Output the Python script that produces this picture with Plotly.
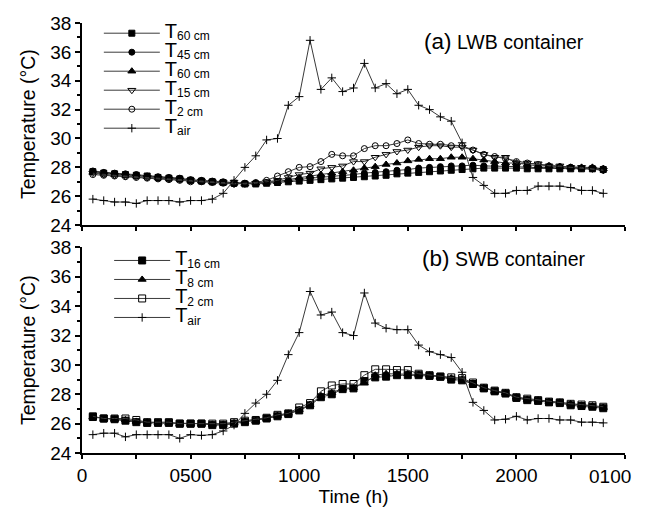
import plotly.graph_objects as go

hours = [0.5, 1.0, 1.5, 2.0, 2.5, 3.0, 3.5, 4.0, 4.5, 5.0, 5.5, 6.0,
         6.5, 7.0, 7.5, 8.0, 8.5, 9.0, 9.5, 10.0, 10.5, 11.0, 11.5, 12.0,
         12.5, 13.0, 13.5, 14.0, 14.5, 15.0, 15.5, 16.0, 16.5, 17.0, 17.5, 18.0,
         18.5, 19.0, 19.5, 20.0, 20.5, 21.0, 21.5, 22.0, 22.5, 23.0, 23.5, 24.0]

x_tickvals = [0, 2.5, 5, 7.5, 10, 12.5, 15, 17.5, 20, 22.5, 25]
x_ticktext = ["0", "", "0500", "", "1000", "", "1500", "", "2000", "", ""]
last_tick_label = "0100"

# (a) LWB container
lwb_60a = [27.7, 27.6, 27.55, 27.5, 27.45, 27.4, 27.3, 27.25, 27.2, 27.1, 27.05, 27.0,
           26.95, 26.9, 26.85, 26.85, 26.9, 26.95, 27.0, 27.05, 27.1, 27.15, 27.2, 27.25,
           27.3, 27.35, 27.4, 27.45, 27.55, 27.6, 27.65, 27.7, 27.75, 27.8, 27.85, 27.9,
           27.95, 27.95, 27.95, 27.95, 27.9, 27.9, 27.9, 27.9, 27.9, 27.9, 27.9, 27.85]
lwb_45 = [27.75, 27.65, 27.6, 27.55, 27.5, 27.4, 27.35, 27.3, 27.25, 27.15, 27.1, 27.05,
          27.0, 26.9, 26.9, 26.9, 26.95, 27.0, 27.1, 27.15, 27.25, 27.3, 27.35, 27.45,
          27.5, 27.6, 27.65, 27.7, 27.8, 27.85, 27.95, 28.0, 28.05, 28.1, 28.1, 28.15,
          28.1, 28.1, 28.05, 28.05, 28.0, 28.0, 28.0, 28.0, 28.0, 27.95, 27.95, 27.9]
lwb_60b = [27.65, 27.6, 27.5, 27.45, 27.4, 27.35, 27.3, 27.25, 27.2, 27.1, 27.05, 27.0,
           26.95, 26.9, 26.85, 26.9, 26.95, 27.0, 27.15, 27.3, 27.4, 27.5, 27.6, 27.7,
           27.8, 27.95, 28.05, 28.2, 28.3, 28.45, 28.55, 28.6, 28.6, 28.7, 28.7, 28.6,
           28.5, 28.4, 28.3, 28.3, 28.2, 28.1, 28.1, 28.05, 28.0, 28.0, 28.0, 27.9]
lwb_15 = [27.6, 27.5, 27.45, 27.4, 27.35, 27.3, 27.25, 27.2, 27.15, 27.1, 27.05, 27.0,
          26.95, 26.85, 26.85, 26.9, 27.0, 27.1, 27.3, 27.5, 27.6, 27.9, 28.0, 28.1,
          28.4, 28.4, 28.7, 28.9, 29.1, 29.2, 29.4, 29.5, 29.5, 29.4, 29.4, 29.2,
          28.9, 28.7, 28.7, 28.3, 28.3, 28.25, 28.1, 28.1, 28.0, 28.0, 27.9, 27.8]
lwb_2 = [27.5, 27.45, 27.4, 27.35, 27.3, 27.25, 27.2, 27.15, 27.1, 27.0, 27.0, 26.95,
         26.9, 26.85, 26.9, 26.95, 27.1, 27.4, 27.7, 28.0, 28.05, 28.4, 28.9, 28.8,
         28.8, 29.3, 29.5, 29.5, 29.65, 29.9, 29.65, 29.6, 29.6, 29.5, 29.5, 29.2,
         28.9, 28.75, 28.6, 28.4, 28.3, 28.2, 28.1, 28.05, 28.0, 27.95, 27.9, 27.8]
lwb_air = [25.8, 25.7, 25.6, 25.6, 25.5, 25.7, 25.7, 25.7, 25.6, 25.7, 25.7, 25.8,
           26.2, 27.1, 28.0, 28.8, 29.9, 30.0, 32.3, 32.9, 36.8, 33.4, 34.2, 33.25,
           33.5, 35.2, 33.5, 33.8, 33.1, 33.4, 32.3, 32.0, 31.5, 31.2, 29.7, 27.3,
           26.75, 26.2, 26.2, 26.4, 26.4, 26.7, 26.7, 26.7, 26.6, 26.4, 26.4, 26.2]

# (b) SWB container
swb_16 = [26.45, 26.35, 26.3, 26.2, 26.1, 26.05, 26.05, 26.05, 26.0, 26.0, 26.0, 25.9,
          25.9, 26.0, 26.1, 26.2, 26.35, 26.5, 26.65, 26.9, 27.25, 27.8, 28.0, 28.35,
          28.4, 28.9, 29.15, 29.2, 29.3, 29.3, 29.3, 29.25, 29.2, 29.0, 28.95, 28.7,
          28.4, 28.2, 28.05, 27.75, 27.6, 27.55, 27.45, 27.4, 27.25, 27.2, 27.15, 27.05]
swb_8 = [26.45, 26.35, 26.3, 26.25, 26.15, 26.1, 26.05, 26.05, 26.0, 26.0, 26.0, 25.95,
         25.95, 26.05, 26.15, 26.2, 26.35, 26.55, 26.7, 26.95, 27.3, 27.9, 28.1, 28.4,
         28.45, 28.75, 29.3, 29.4, 29.4, 29.4, 29.35, 29.3, 29.2, 29.1, 29.0, 28.75,
         28.45, 28.2, 28.1, 27.8, 27.65, 27.6, 27.5, 27.45, 27.35, 27.25, 27.2, 27.1]
swb_2 = [26.5, 26.35, 26.35, 26.35, 26.25, 26.1, 26.1, 26.1, 26.0, 26.0, 26.0, 26.0,
         26.0, 26.1, 26.2, 26.25, 26.4, 26.6, 26.7, 27.1, 27.4, 28.2, 28.6, 28.7,
         28.7, 29.3, 29.7, 29.7, 29.65, 29.65, 29.4, 29.3, 29.2, 29.15, 29.1, 28.8,
         28.45, 28.25, 28.1, 27.8, 27.7, 27.6, 27.5, 27.45, 27.35, 27.3, 27.25, 27.15]
swb_air = [25.25, 25.35, 25.35, 25.1, 25.25, 25.25, 25.25, 25.25, 25.0, 25.25, 25.2, 25.25,
           25.5, 25.9, 26.7, 27.4, 28.0, 28.95, 30.7, 32.2, 35.0, 33.4, 33.6, 32.2,
           32.0, 34.9, 32.85, 32.5, 32.4, 32.4, 31.35, 30.9, 30.7, 30.5, 29.5, 27.45,
           26.9, 26.25, 26.3, 26.5, 26.25, 26.35, 26.35, 26.25, 26.25, 26.1, 26.1, 26.05]

FONT = "Liberation Sans, Arial, Helvetica, sans-serif"
fig = go.Figure()


def label(sub):
    return ("<span style='font-size:20px'>T</span>"
            "<sub><span style='font-size:12px'>" + sub + "</span></sub>")


def add(y, name, symbol, xa, ya, legend, size=7, lw=1):
    fig.add_trace(go.Scatter(
        x=hours, y=y, name=name, mode="lines+markers",
        line=dict(color="#3a3a3a", width=1),
        marker=dict(symbol=symbol, size=size, color="black",
                    line=dict(color="black", width=lw)),
        xaxis=xa, yaxis=ya, legend=legend))


add(lwb_60a, label("60 cm"), "square", "x2", "y2", "legend", 6)
add(lwb_45, label("45 cm"), "circle", "x2", "y2", "legend", 6)
add(lwb_60b, label("60 cm"), "triangle-up", "x2", "y2", "legend", 7)
add(lwb_15, label("15 cm"), "triangle-down-open", "x2", "y2", "legend", 7)
add(lwb_2, label("2 cm"), "circle-open", "x2", "y2", "legend", 6)
add(lwb_air, label("air"), "cross-thin", "x2", "y2", "legend", 6)

add(swb_16, label("16 cm"), "square", "x", "y", "legend2", 7)
add(swb_8, label("8 cm"), "triangle-up", "x", "y", "legend2", 7)
add(swb_2, label("2 cm"), "square-open", "x", "y", "legend2", 7)
add(swb_air, label("air"), "cross-thin", "x", "y", "legend2", 6)

xcommon = dict(range=[0, 25], tickvals=x_tickvals, ticktext=x_ticktext,
               ticks="outside", ticklen=4, tickwidth=1.5, tickcolor="black",
               showline=True, linecolor="black", linewidth=1.6,
               showgrid=False, zeroline=False, automargin=False,
               tickfont=dict(size=19, color="black", family=FONT))
ycommon = dict(range=[24, 38], dtick=2, ticks="outside", ticklen=5, tickwidth=1.5,
               tickcolor="black", showline=True, linecolor="black", linewidth=1.6,
               showgrid=False, zeroline=False, automargin=False,
               minor=dict(dtick=1, ticks="outside", ticklen=3, tickcolor="black", tickwidth=1.5),
               tickfont=dict(size=19, color="black", family=FONT),
               title=dict(text="Temperature (°C)", font=dict(size=19.5, color="black", family=FONT),
                          standoff=9))

# the page body adds an 8 px offset, so the figure is sized and margined to compensate
fig.update_layout(
    width=641, height=499,
    margin=dict(l=74, r=24, t=11, b=54),
    paper_bgcolor="white", plot_bgcolor="white",
    font=dict(family=FONT, color="black"),
    xaxis=dict(**xcommon, domain=[0, 1], anchor="y",
               title=dict(text="Time (h)", font=dict(size=19, color="black", family=FONT), standoff=4)),
    xaxis2=dict(**xcommon, domain=[0, 1], anchor="y2", matches="x", showticklabels=False),
    yaxis=dict(**ycommon, domain=[0, 0.478], anchor="x"),
    yaxis2=dict(**ycommon, domain=[0.530, 1], anchor="x2"),
    legend=dict(x=0.031, y=1.01, xanchor="left", yanchor="top", bgcolor="rgba(0,0,0,0)",
                font=dict(size=12, family=FONT), itemwidth=56, tracegroupgap=0),
    legend2=dict(x=0.05, y=0.4815, xanchor="left", yanchor="top", bgcolor="rgba(0,0,0,0)",
                 font=dict(size=12, family=FONT), itemwidth=56, tracegroupgap=0),
    annotations=[
        dict(text="<span style='font-size:22.5px'>(a)</span> LWB container", x=0.777, y=0.957,
             xref="paper", yref="paper", xanchor="center", yanchor="middle",
             showarrow=False, font=dict(size=19.5, family=FONT)),
        dict(text="<span style='font-size:22.5px'>(b)</span> SWB container", x=0.777, y=0.452,
             xref="paper", yref="paper", xanchor="center", yanchor="middle",
             showarrow=False, font=dict(size=19.5, family=FONT)),
        # label of the last x tick, nudged left like in the original figure
        dict(text=last_tick_label, x=x_tickvals[-1], xref="x", y=0, yref="paper",
             xanchor="center", yanchor="middle", xshift=-15, yshift=-23,
             showarrow=False, font=dict(size=19, color="black", family=FONT)),
    ],
)

fig.write_html("out.html")
